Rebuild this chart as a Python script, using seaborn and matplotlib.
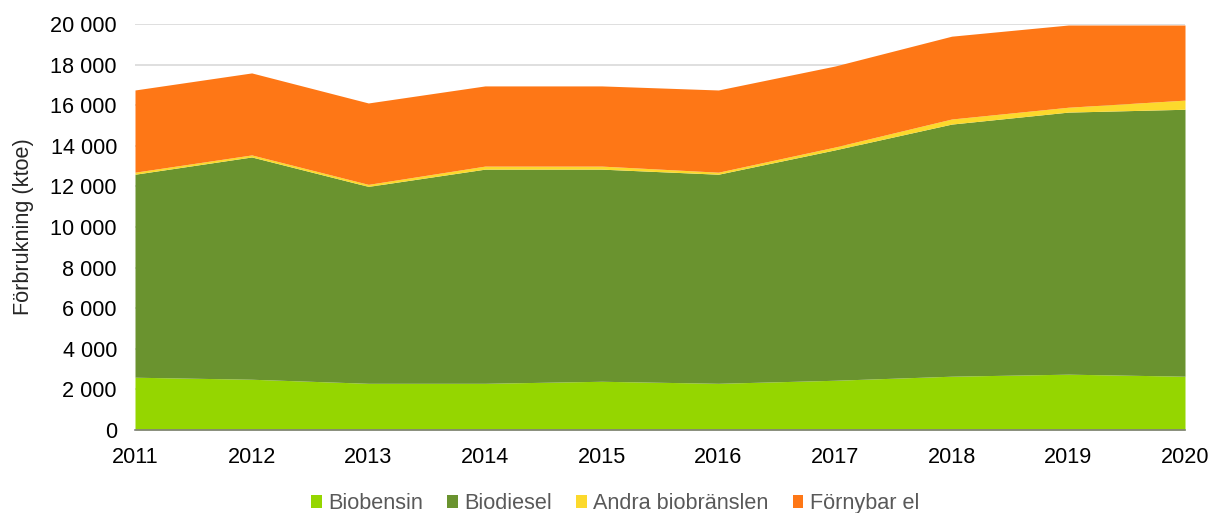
import matplotlib
matplotlib.use("Agg")
import matplotlib.pyplot as plt
import seaborn as sns
import numpy as np
from matplotlib.ticker import FuncFormatter, MultipleLocator
from matplotlib.patches import Patch

years = [2011, 2012, 2013, 2014, 2015, 2016, 2017, 2018, 2019, 2020]
biobensin = [2600, 2500, 2300, 2300, 2400, 2300, 2450, 2650, 2750, 2650]
biodiesel = [10000, 10950, 9700, 10550, 10450, 10300, 11350, 12420, 12910, 13150]
andra = [100, 100, 100, 150, 150, 100, 140, 250, 240, 450]
fornybar_el = [4050, 4040, 4010, 3950, 3950, 4050, 3990, 4080, 4050, 3700]
labels = ["Biobensin", "Biodiesel", "Andra biobränslen", "Förnybar el"]
colors = ["#95d600", "#6a932f", "#fcd92c", "#fe7716"]

sns.set_theme(style="white")
plt.rcParams['font.family'] = ['Liberation Sans', 'DejaVu Sans']

fig = plt.figure(figsize=(12.11, 5.13), dpi=100)
ax = fig.add_axes([135/1211, 83/513, 1050/1211, 406/513])

ax.stackplot(years, biobensin, biodiesel, andra, fornybar_el, colors=colors,
             labels=labels, linewidth=0, zorder=2)

ax.set_xlim(2011, 2020)
ax.set_ylim(0, 20000)
ax.yaxis.set_major_locator(MultipleLocator(2000))
ax.set_xticks(years)
ax.yaxis.set_major_formatter(FuncFormatter(lambda v, p: f"{int(v):,}".replace(",", " ")))
ax.grid(axis="y", color="#d9d9d9", linewidth=1.2, zorder=0)
ax.grid(axis="x", visible=False)
for s in ["top", "right", "left"]:
    ax.spines[s].set_visible(False)
ax.spines["bottom"].set_color("#808080")
ax.spines["bottom"].set_linewidth(1.2)
ax.spines["bottom"].set_zorder(3)
ax.tick_params(axis="both", length=0, labelsize=15.6, colors="black")
ax.tick_params(axis="x", pad=12)
ax.tick_params(axis="y", pad=13)
ax.set_ylabel("Förbrukning (ktoe)", fontsize=15.6, labelpad=12)

handles = [Patch(facecolor=c, edgecolor="none") for c in colors]
leg = fig.legend(handles, labels, loc="lower center", bbox_to_anchor=(0.508, -0.04), ncol=4,
                 frameon=False, fontsize=15.6, handlelength=0.5, handleheight=0.5,
                 handletextpad=0.3, columnspacing=1.1)
for t in leg.get_texts():
    t.set_color("#595959")

fig.savefig("out.png", dpi=100)
